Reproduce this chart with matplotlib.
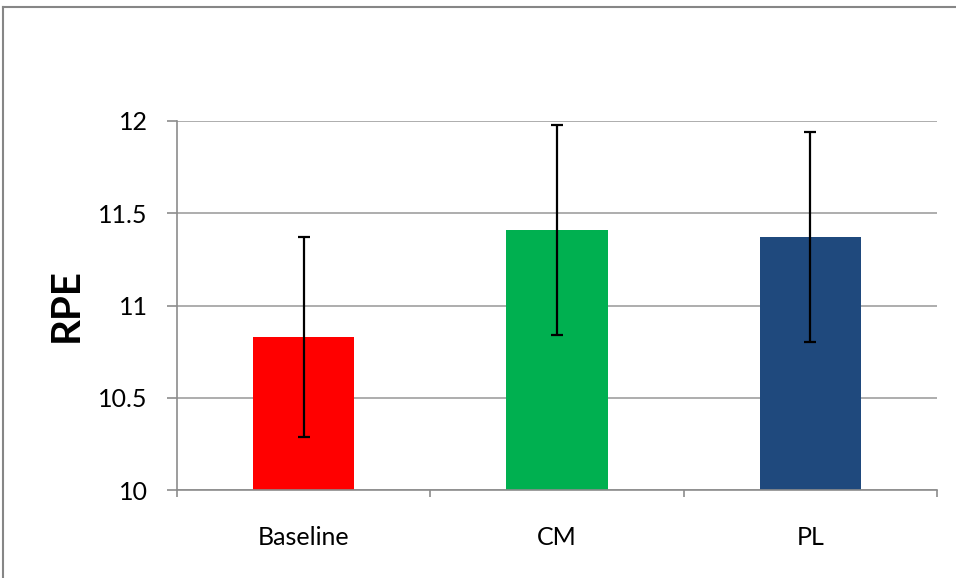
import matplotlib
matplotlib.use("Agg")
import matplotlib.pyplot as plt
from matplotlib.lines import Line2D

# data
groups = ["Baseline", "CM", "PL"]
rpe_mean = [10.83, 11.41, 11.37]
rpe_err = [0.54, 0.57, 0.57]
colors = ["#FF0000", "#00B050", "#1F497D"]
yticks = [10, 10.5, 11, 11.5, 12]

plt.rcParams["font.family"] = ["Lato", "DejaVu Sans"]

fig = plt.figure(figsize=(9.56, 5.78), dpi=100)
ax = fig.add_axes([0.1851, 0.1522, 0.7950, 0.6385])

x = range(len(groups))
ax.bar(x, rpe_mean, width=0.40, color=colors, zorder=2)
ax.errorbar(x, rpe_mean, yerr=rpe_err, fmt="none", ecolor="black",
            elinewidth=1.6, capsize=4.5, capthick=1.6, zorder=3)

ax.set_xlim(-0.5, len(groups) - 0.5)
ax.set_ylim(10, 12)
ax.set_yticks(yticks)
ax.set_yticklabels(["10", "10.5", "11", "11.5", "12"], fontsize=18)
ax.set_xticks(list(x))
ax.set_xticklabels(groups, fontsize=18)
ax.set_xticks([-0.5, 0.5, 1.5, 2.5], minor=True)

ax.grid(axis="y", color="#A0A0A0", linewidth=1.2, zorder=0)
for s in ["top", "right"]:
    ax.spines[s].set_visible(False)
for s in ["left", "bottom"]:
    ax.spines[s].set_color("#8C8C8C")
    ax.spines[s].set_linewidth(1.2)

ax.tick_params(axis="x", which="major", length=0, pad=26)
ax.tick_params(axis="x", which="minor", length=5, color="#8C8C8C", width=1.2)
ax.tick_params(axis="y", length=7, color="#8C8C8C", width=1.2, pad=14)

ax.set_ylabel("RPE", fontsize=29, fontweight="bold", labelpad=10)

# chart area border (top and left visible in crop)
fig.add_artist(Line2D([3 / 956, 1], [1 - 7 / 578, 1 - 7 / 578],
                      transform=fig.transFigure, color="#868686", linewidth=1.5))
fig.add_artist(Line2D([3 / 956, 3 / 956], [0, 1 - 7 / 578],
                      transform=fig.transFigure, color="#868686", linewidth=1.5))

fig.savefig("out.png", dpi=100)
